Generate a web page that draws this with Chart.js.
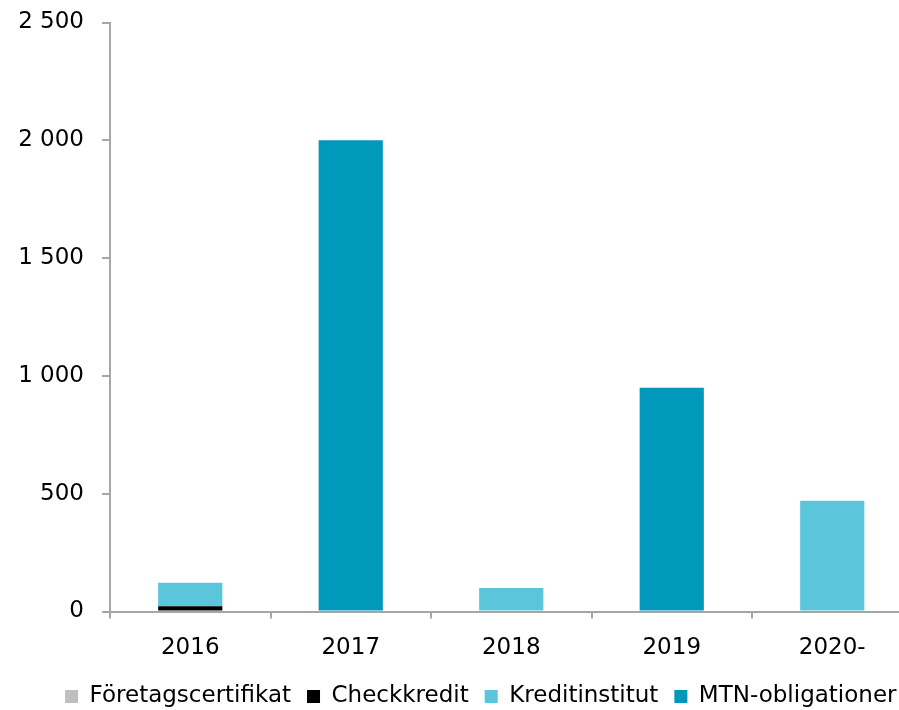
<!DOCTYPE html>
<html>
<head>
<meta charset="utf-8">
<script src="https://cdn.jsdelivr.net/npm/chart.js@4.4.0/dist/chart.umd.min.js"></script>
<style>
html,body{margin:0;padding:0;background:#fff;overflow:hidden;}
#wrap{width:913px;height:718px;}
</style>
</head>
<body>
<div id="wrap"><canvas id="c" width="913" height="718"></canvas></div>
<script>
const categories = ['2016', '2017', '2018', '2019', '2020-'];
const foretagscertifikat = [0, 0, 0, 0, 0];
const checkkredit = [22, 0, 0, 0, 0];
const kreditinstitut = [100, 0, 100, 0, 470];
const mtnObligationer = [0, 2000, 0, 950, 0];
const yTicks = [0, 500, 1000, 1500, 2000, 2500];

const axisColor = '#a6a6a6';
const fmt = v => String(v).replace(/\B(?=(\d{3})+(?!\d))/g, ' ');

new Chart(document.getElementById('c'), {
  type: 'bar',
  data: {
    labels: categories,
    datasets: [
      {label: 'Företagscertifikat', data: foretagscertifikat, backgroundColor: '#bfbfbf'},
      {label: 'Checkkredit', data: checkkredit, backgroundColor: '#000000'},
      {label: 'Kreditinstitut', data: kreditinstitut, backgroundColor: '#5bc5db'},
      {label: 'MTN-obligationer', data: mtnObligationer, backgroundColor: '#0099bb'}
    ]
  },
  options: {
    responsive: false,
    animation: false,
    devicePixelRatio: 1,
    layout: {padding: {left: 0, right: 0.5, top: 22.5, bottom: 0}},
    datasets: {bar: {barPercentage: 0.4, categoryPercentage: 1.0, borderWidth: 0}},
    plugins: {
      tooltip: {enabled: false},
      legend: {
        position: 'bottom',
        align: 'end',
        labels: {
          boxWidth: 13, boxHeight: 13, padding: 16, color: '#000',
          font: {family: 'DejaVu Sans', size: 23}
        }
      }
    },
    scales: {
      x: {
        stacked: true,
        afterFit: s => { s.height = 57.5; },
        grid: {offset: true, drawOnChartArea: false, drawTicks: true, tickLength: 7, color: axisColor, lineWidth: 2},
        border: {display: true, color: axisColor, width: 2},
        ticks: {color: '#000', padding: 16, font: {family: 'DejaVu Sans', size: 23}, maxRotation: 0}
      },
      y: {
        stacked: true,
        min: 0, max: 2500,
        afterFit: s => { s.width = 110; s.paddingTop = 0; s.paddingBottom = 0; },
        afterBuildTicks: s => { s.ticks = yTicks.map(v => ({value: v})); },
        grid: {drawOnChartArea: false, drawTicks: true, tickLength: 8, color: axisColor, lineWidth: 2},
        border: {display: true, color: axisColor, width: 2},
        ticks: {color: '#000', padding: 18, font: {family: 'DejaVu Sans', size: 23}, callback: v => fmt(v)}
      }
    }
  }
});
</script>
</body>
</html>
